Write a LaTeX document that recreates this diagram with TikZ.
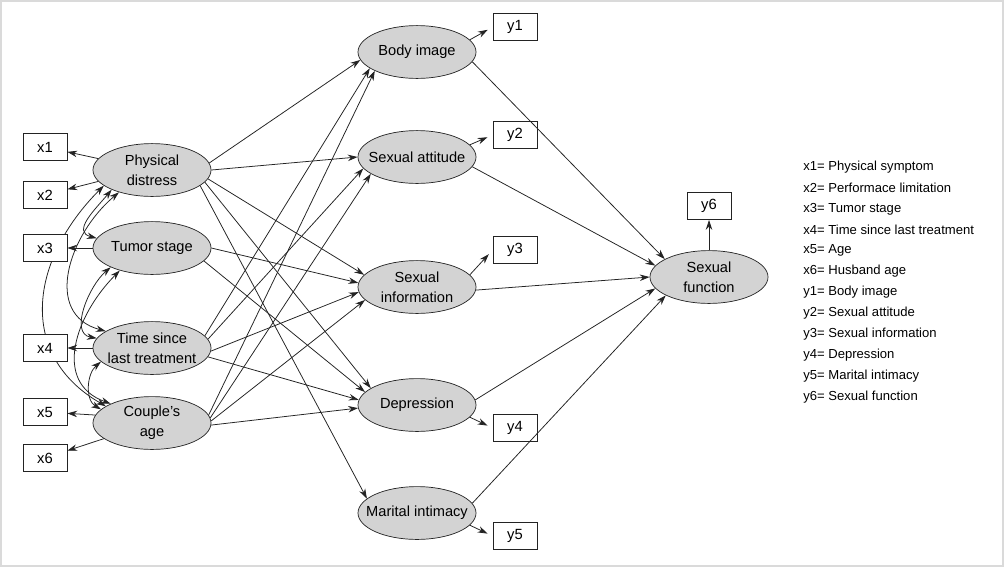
\documentclass[tikz,border=0pt]{standalone}
\usepackage{fontspec}
\setmainfont{Liberation Sans}
\usepackage{tikz}
\usetikzlibrary{shapes.geometric, arrows.meta}
\definecolor{latentGray}{RGB}{211,211,211}
\definecolor{lineDark}{RGB}{35,35,35}
\definecolor{frameGray}{RGB}{218,218,218}

\begin{document}
\begin{tikzpicture}[
      x=0.025cm, y=0.025cm,
      >={Stealth[length=7pt,width=4.6pt]},
      latent/.style={draw=lineDark, ellipse, fill=latentGray, line width=0.5pt,
                     minimum width=2.95cm, minimum height=1.32cm,
                     inner xsep=-9pt, inner ysep=0pt,
                     align=center, font=\fontsize{10.4}{14}\selectfont},
      obs/.style={draw=lineDark, rectangle, fill=white, line width=0.5pt,
                  minimum width=1.1cm, minimum height=0.68cm, inner sep=0pt,
                  font=\fontsize{10.5}{12}\selectfont},
      arr/.style={->, draw=lineDark, line width=0.55pt},
      ind/.style={arr, shorten >=4pt},
      cov/.style={<->, draw=lineDark, line width=0.55pt},
      legend/.style={anchor=west, inner sep=0pt, font=\fontsize{9.3}{11}\selectfont}
    ]
      \useasboundingbox (0,0) rectangle (1004,-567);
      \draw[frameGray, line width=1.3pt] (1,-1) rectangle (1003,-566);

      \node[latent] (phys)  at (152,-170) {Physical\\distress};
      \node[latent] (tumor) at (152,-248) {Tumor stage};
      \node[latent] (time)  at (152,-348) {Time since\\last treatment};
      \node[latent] (age)   at (152,-423) {Couple's\\age};

      \node[latent] (body) at (417,-52)  {Body image};
      \node[latent] (att)  at (417,-157) {Sexual attitude};
      \node[latent] (info) at (417,-287) {Sexual\\information};
      \node[latent] (dep)  at (417,-405) {Depression};
      \node[latent] (mar)  at (417,-513) {Marital intimacy};

      \node[latent] (func) at (709,-277) {Sexual\\function};

      % correlations among the exogenous factors
      \draw[cov] (phys.198)  to[out=225, in=150, looseness=1.2] (age.160);
      \draw[cov] (phys.206)  to[out=230, in=165, looseness=1.3] (tumor.170);
      \draw[cov] (phys.214)  to[out=220, in=165, looseness=1.2] (time.160);
      \draw[cov] (tumor.205) to[out=220, in=170] (time.170);
      \draw[cov] (tumor.215) to[out=225, in=160, looseness=1.2] (age.155);
      \draw[cov] (time.195)  to[out=220, in=150] (age.165);

      \node[obs] (x1) at (45,-147) {x1};
      \node[obs] (x2) at (45,-195) {x2};
      \node[obs] (x3) at (45,-248) {x3};
      \node[obs] (x4) at (45,-348) {x4};
      \node[obs] (x5) at (45,-412) {x5};
      \node[obs] (x6) at (45,-458) {x6};

      \node[obs] (y1) at (515,-27)  {y1};
      \node[obs] (y2) at (515,-135) {y2};
      \node[obs] (y3) at (515,-250) {y3};
      \node[obs] (y4) at (515,-428) {y4};
      \node[obs] (y5) at (515,-536) {y5};
      \node[obs] (y6) at (709,-206) {y6};

      \draw[arr] (phys.168) -- (x1);
      \draw[arr] (phys.192) -- (x2);
      \draw[arr] (tumor) -- (x3);
      \draw[arr] (time) -- (x4);
      \draw[arr] (age.172) -- (x5);
      \draw[arr] (age.198) -- (x6);

      \draw[ind] (body.13)  -- (y1.west);
      \draw[ind] (att.13)   -- (y2.west);
      \draw[ind] (info.13)  -- (y3.west);
      \draw[ind] (dep.-13)  -- (y4.west);
      \draw[ind] (mar.-13)  -- (y5.west);
      \draw[arr] (func) -- (y6);

      \draw[arr] (phys.7)   -- (body.188);
      \draw[arr] (phys.0)   -- (att.180);
      \draw[arr] (phys.-9)  -- (info.167);
      \draw[arr] (phys.-13) -- (dep.160);
      \draw[arr] (phys.-18) -- (mar.164);
      \draw[arr] (tumor.0)   -- (info.176);
      \draw[arr] (tumor.-14) -- (dep.166);
      \draw[arr] (time.13)  -- (body.199);
      \draw[arr] (time.9)   -- (att.192);
      \draw[arr] (time.-3)  -- (info.185);
      \draw[arr] (time.-9)  -- (dep.175);
      \draw[arr] (age.8)  -- (body.204);
      \draw[arr] (age.5)  -- (att.200);
      \draw[arr] (age.2)  -- (info.194);
      \draw[arr] (age.-2) -- (dep.183);

      \draw[arr] (body.-10) -- (func.158);
      \draw[arr] (att.-10)  -- (func.168);
      \draw[arr] (info.-3)  -- (func.180);
      \draw[arr] (dep.5)    -- (func.192);
      \draw[arr] (mar.10)   -- (func.203);

      \foreach \lbl [count=\i] in {x1= Physical symptom, x2= Performace limitation,
          x3= Tumor stage, x4= Time since last treatment, x5= Age, x6= Husband age,
          y1= Body image, y2= Sexual attitude, y3= Sexual information,
          y4= Depression, y5= Marital intimacy, y6= Sexual function}
        \node[legend] (leg\i) at (803,{-167-20.9*(\i-1)}) {\lbl};
    \end{tikzpicture}
\end{document}
